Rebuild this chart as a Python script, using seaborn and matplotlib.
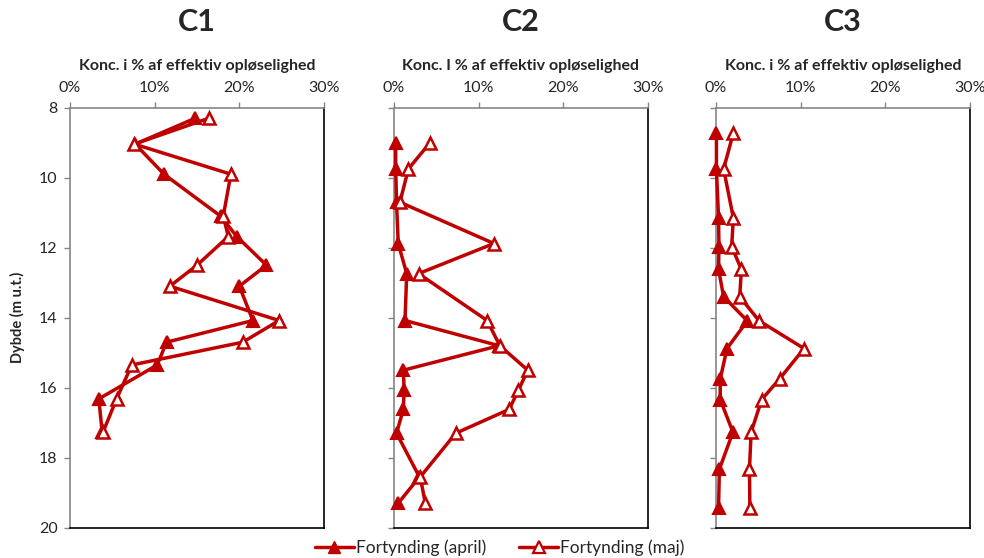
import numpy as np
import pandas as pd
import seaborn as sns
import matplotlib.pyplot as plt
from matplotlib.ticker import PercentFormatter
from matplotlib.lines import Line2D

sns.set_theme(style='white')
plt.rcParams['font.family'] = ['Lato', 'DejaVu Sans']

# dybder (m u.t.) og koncentrationer (% af effektiv opløselighed)
depth_c1 = [8.3, 9.04, 9.9, 11.1, 11.68, 12.5, 13.1, 14.08, 14.7, 15.35, 16.32, 17.27]
april_c1 = [14.8, 7.7, 11.1, 17.8, 19.7, 23.2, 20.0, 21.6, 11.4, 10.3, 3.4, 3.8]
maj_c1 = [16.4, 7.6, 19.0, 18.1, 18.7, 15.0, 11.8, 24.7, 20.4, 7.3, 5.5, 3.9]

depth_c2 = [9.0, 9.75, 10.7, 11.88, 12.74, 14.08, 14.8, 15.5, 16.07, 16.62, 17.3, 18.55, 19.3]
april_c2 = [0.2, 0.2, 0.3, 0.5, 1.5, 1.3, 12.4, 1.1, 1.2, 1.1, 0.3, 3.0, 0.5]
maj_c2 = [4.25, 1.7, 0.7, 11.8, 2.9, 11.0, 12.5, 15.8, 14.7, 13.6, 7.3, 3.1, 3.7]

depth_c3 = [8.72, 9.75, 11.15, 11.97, 12.62, 13.4, 14.09, 14.88, 15.75, 16.34, 17.27, 18.33, 19.44]
april_c3 = [0.05, 0.05, 0.3, 0.35, 0.3, 0.9, 3.7, 1.3, 0.5, 0.5, 2.0, 0.4, 0.3]
maj_c3 = [2.05, 0.9, 2.05, 1.85, 3.0, 2.8, 5.1, 10.4, 7.5, 5.4, 4.15, 3.95, 4.0]

panels = ['C1', 'C2', 'C3']
xlabels = ['Konc. i % af effektiv opløselighed',
           'Konc. I % af effektiv opløselighed',
           'Konc. i % af effektiv opløselighed']
series = {'C1': (depth_c1, april_c1, maj_c1),
          'C2': (depth_c2, april_c2, maj_c2),
          'C3': (depth_c3, april_c3, maj_c3)}

red = '#C00000'
W, H = 984, 558
fig = plt.figure(figsize=(W / 100, H / 100), dpi=100)
lefts = [70, 394, 716]
ax_w, ax_top, ax_bot = 254, 107.7, 527.7

for i, name in enumerate(panels):
    ax = fig.add_axes([lefts[i] / W, 1 - ax_bot / H, ax_w / W, (ax_bot - ax_top) / H])
    d, a, m = series[name]
    df = pd.DataFrame({'depth': d, 'april': a, 'maj': m})
    sns.lineplot(data=df, x='april', y='depth', sort=False, estimator=None, errorbar=None,
                 ax=ax, color=red, lw=2.5, marker='^', ms=9, mfc=red, mec=red, mew=1.5,
                 clip_on=False, zorder=3)
    sns.lineplot(data=df, x='maj', y='depth', sort=False, estimator=None, errorbar=None,
                 ax=ax, color=red, lw=2.5, marker='^', ms=9, mfc='white', mec=red, mew=1.8,
                 clip_on=False, zorder=3)
    ax.set_xlim(0, 30)
    ax.set_ylim(20, 8)
    ax.set_xticks([0, 10, 20, 30])
    ax.set_yticks(np.arange(8, 21, 2))
    ax.xaxis.set_major_formatter(PercentFormatter(xmax=100, decimals=0))
    ax.xaxis.tick_top()
    ax.xaxis.set_label_position('top')
    ax.set_xlabel(xlabels[i], fontsize=11.5, fontweight='bold', labelpad=8)
    ax.tick_params(axis='x', top=True, bottom=False, length=4, width=1, color='#868686',
                   labelsize=11.5, pad=5)
    ax.tick_params(axis='y', left=True, length=4, width=1, color='#868686', labelsize=11.5, pad=5)
    if i == 0:
        ax.set_ylabel('Dybde (m u.t.)', fontsize=10.5, fontweight='bold', labelpad=10)
    else:
        ax.set_ylabel('')
        ax.set_yticklabels([])
    for s in ['top', 'left']:
        ax.spines[s].set_color('#868686')
        ax.spines[s].set_linewidth(1.2)
    for s in ['right', 'bottom']:
        ax.spines[s].set_color('black')
        ax.spines[s].set_linewidth(1.2)
    ax.text(0.5, 1.204, name, transform=ax.transAxes, ha='center', va='center',
            fontsize=22, fontweight='bold')

handles = [Line2D([], [], color=red, lw=2.5, marker='^', ms=8, mfc=red, mec=red),
           Line2D([], [], color=red, lw=2.5, marker='^', ms=8, mfc='white', mec=red, mew=1.6)]
fig.legend(handles, ['Fortynding (april)', 'Fortynding (maj)'], loc='center',
           bbox_to_anchor=(500 / W, 1 - 548 / H), ncol=2, frameon=False, fontsize=12.5,
           handlelength=2.2, columnspacing=1.9, handletextpad=0.15)

fig.savefig('out.png', dpi=100)
